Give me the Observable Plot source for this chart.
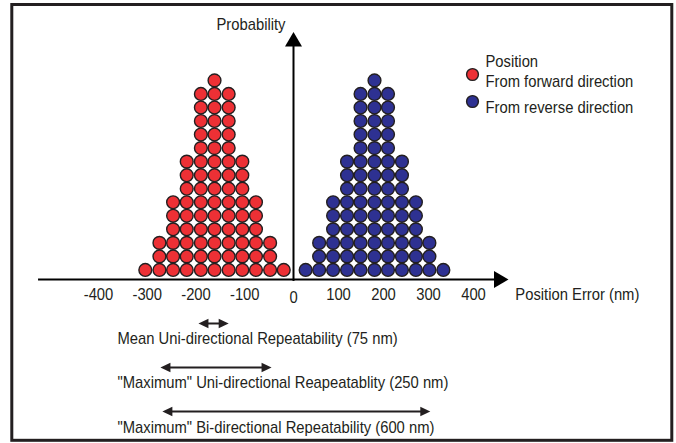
<!DOCTYPE html>
<html>
<head>
<meta charset="utf-8">
<script src="https://cdn.jsdelivr.net/npm/d3@7"></script>
<script src="https://cdn.jsdelivr.net/npm/@observablehq/plot@0.6"></script>
<style>
  html, body { margin: 0; padding: 0; background: #fff; }
  #chart svg { display: block; }
</style>
</head>
<body>
<div id="chart"></div>
<script>
// ---- data ----
const forwardX = [-304, -275, -247, -219, -190, -162, -133, -105, -77, -48, -20];
const forwardCounts = [1, 3, 6, 9, 14, 15, 14, 9, 6, 3, 1];
const reverseX = [27, 57, 88, 119, 149, 180, 210, 241, 272, 302, 333];
const reverseCounts = [1, 3, 6, 9, 14, 15, 14, 9, 6, 3, 1];
const tickValues = [-400, -300, -200, -100, 0, 100, 200, 300, 400];
const spanLabels = [
  "Mean Uni-directional Repeatability (75 nm)",
  "\"Maximum\" Uni-directional Reapeatablity (250 nm)",
  "\"Maximum\" Bi-directional Repeatability (600 nm)"
];
const spanStart = [-195, -273, -269];
const spanEnd = [-133, -45, 304];
const seriesNames = ["From forward direction", "From reverse direction"];
const legendTitle = "Position";
const xTitle = "Position Error (nm)";
const yTitle = "Probability";

// ---- styling / layout ----
const RED = "#ed3035", BLUE = "#2e3192", INK = "#231f20";
const FONT = "'Liberation Sans', Arial, sans-serif";

function stack(xs, counts, series) {
  const out = [];
  xs.forEach((x, i) => { for (let k = 1; k <= counts[i]; k++) out.push({x, y: k, series}); });
  return out;
}
const forwardDots = stack(forwardX, forwardCounts, seriesNames[0]);
const reverseDots = stack(reverseX, reverseCounts, seriesNames[1]);

const arrowY = [-2.954, -6.204, -9.453];
const labelY = [-4.09, -7.34, -10.66];
const spans = spanLabels.map((label, i) => ({label, x1: spanStart[i], x2: spanEnd[i], ay: arrowY[i], ty: labelY[i]}));

// arrowhead symbols: tip at origin, pointing up
function head(len, w) {
  return {draw(context) {
    context.moveTo(0, 0);
    context.lineTo(-w / 2, len);
    context.lineTo(w / 2, len);
    context.closePath();
  }};
}
const bigHead = head(14.5, 17);
const smallHead = head(10, 9.5);

const yPx0 = 283, yUnit = 13.54;

const plot = Plot.plot({
  width: 676,
  height: 443,
  margin: 0,
  x: {type: "linear", domain: [-400, 0, 400], range: [98, 293, 473], axis: null},
  y: {domain: [0, 15], range: [yPx0, yPx0 - 15 * yUnit], axis: null},
  style: {fontFamily: FONT, fontSize: "17px", color: INK, background: "#fff", overflow: "visible"},
  marks: [
    Plot.frame({stroke: INK, strokeWidth: 3, insetLeft: 11.3, insetTop: 4, insetRight: 4.7, insetBottom: 3.2}),
    // axes
    Plot.ruleY([0], {x1: -523, x2: 450, stroke: "#000", strokeWidth: 2, dy: -4}),
    Plot.dot([0], {x: 477.8, y: 0, dy: -4, symbol: bigHead, rotate: 90, fill: "#000", stroke: "none"}),
    Plot.ruleX([0], {y1: 0.15, y2: 17.9, stroke: "#000", strokeWidth: 2}),
    Plot.dot([0], {x: 0, y: 18.57, symbol: bigHead, fill: "#000", stroke: "none"}),
    Plot.text(tickValues.filter(d => d !== 0), {x: d => d, y: -0.842, text: d => String(d), fill: INK, ariaLabel: "ticklabels"}),
    Plot.text(tickValues.filter(d => d === 0), {x: d => d, y: -0.842, dy: 2.5, text: d => String(d), fill: INK, ariaLabel: "ticklabels"}),
    Plot.text([xTitle], {x: 493, y: -0.842, textAnchor: "start", fill: INK}),
    Plot.text([yTitle], {x: -16.4, y: 19.1, textAnchor: "end", fill: INK}),
    // dots
    Plot.dot(forwardDots, {x: "x", y: "y", r: 6.4, fill: RED, stroke: INK, strokeWidth: 1.4}),
    Plot.dot(reverseDots, {x: "x", y: "y", r: 6.4, fill: BLUE, stroke: INK, strokeWidth: 1.4}),
    // repeatability spans
    Plot.ruleY(spans, {x1: "x1", x2: "x2", y: "ay", stroke: INK, strokeWidth: 2, insetLeft: 5, insetRight: 5}),
    Plot.dot(spans, {x: "x1", y: "ay", symbol: smallHead, rotate: -90, fill: INK, stroke: "none"}),
    Plot.dot(spans, {x: "x2", y: "ay", symbol: smallHead, rotate: 90, fill: INK, stroke: "none"}),
    Plot.text(spans, {x: -361, y: "ty", text: "label", textAnchor: "start", fill: INK}),
    // legend
    Plot.text([legendTitle], {frameAnchor: "top-left", dx: 485, dy: 54.4, textAnchor: "start", fill: INK}),
    Plot.dot([0], {frameAnchor: "top-left", dx: 472, dy: 74, r: 5.9, fill: RED, stroke: INK, strokeWidth: 1.4}),
    Plot.dot([0], {frameAnchor: "top-left", dx: 472, dy: 101, r: 5.9, fill: BLUE, stroke: INK, strokeWidth: 1.4}),
    Plot.text([seriesNames[0]], {frameAnchor: "top-left", dx: 485, dy: 74.4, textAnchor: "start", fill: INK}),
    Plot.text([seriesNames[1]], {frameAnchor: "top-left", dx: 485, dy: 100.4, textAnchor: "start", fill: INK})
  ]
});
document.getElementById("chart").appendChild(plot);

// condense the text horizontally to mimic the narrow typeface of the original
d3.select(plot).selectAll("text").each(function () {
  const isTick = this.parentNode && this.parentNode.getAttribute("aria-label") === "ticklabels";
  const sx = isTick ? 0.94 : 0.87;
  const t = this.getAttribute("transform") || "";
  this.setAttribute("transform", (t + ` scale(${sx},1)`).trim());
});
</script>
</body>
</html>
